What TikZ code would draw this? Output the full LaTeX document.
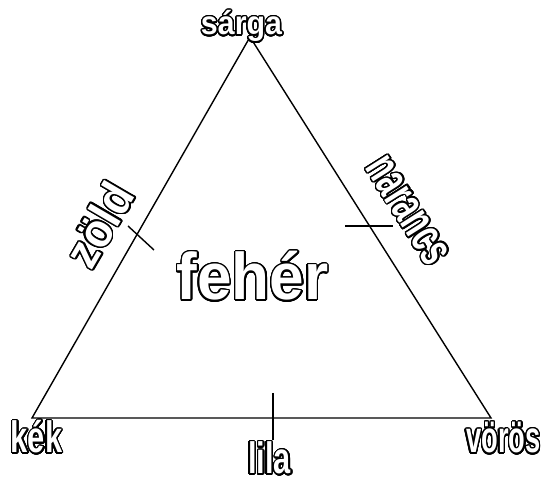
\documentclass[tikz,border=0pt]{standalone}
\usepackage{fontspec}
\usepackage{contour}
\usetikzlibrary{positioning}
\setmainfont{Liberation Sans}
\newfontfamily\lblface{Liberation Sans}
% size, horizontal stretch
\newcommand{\lblfont}[2]{\lblface\bfseries\addfontfeatures{FakeStretch=#2}\fontsize{#1}{#1}\selectfont}
\contourlength{1.4pt}
\contournumber{32}

\begin{document}
\begin{tikzpicture}[x=1pt, y=-1pt,
    side/.style={line width=1.4pt, line join=miter},
    tick/.style={line width=1.4pt},
    colorname/.style={text=white, inner sep=0pt, anchor=base, font=#1},
  ]
  \useasboundingbox (0,0) rectangle (547,481);
  \coordinate (yellow) at (250,37);
  \coordinate (blue) at (32,418);
  \coordinate (red) at (491,418);
  \draw[side] (yellow) -- (red) -- (blue) -- cycle;
  % marks across the sides
  \coordinate (gA) at (128,226);
  \coordinate (gB) at (154,250);
  \coordinate (oA) at (345,226);
  \coordinate (oB) at (393,226);
  \coordinate (pA) at (273,393);
  \coordinate (pB) at (273,440);
  \draw[tick] (gA) -- (gB);
  \draw[tick] (oA) -- (oB);
  \draw[tick] (pA) -- (pB);
  % names of the colours
  \node[colorname={\lblfont{33}{0.92}}] (sarga) at (241.5,35) {\contour{black}{sárga}};
  \node[colorname={\lblfont{44}{0.70}}] (kek) at (36.5,453) {\contour{black}{kék}};
  \node[colorname={\lblfont{44}{0.62}}] (voros) at (503.5,453) {\contour{black}{vörös}};
  \node[colorname={\lblfont{44}{0.70}}] (lila) at (269.5,474) {\contour{black}{lila}};
  \node[colorname={\lblfont{66}{0.94}}] (feher) at (252.5,300) {\contour{black}{fehér}};
  \node[colorname={\lblfont{48}{0.92}}, anchor=center, rotate=59.7] (zold) at (100,225) {\contour{black}{zöld}};
  \node[colorname={\lblfont{50}{0.62}}, anchor=center, rotate=-57.7] (narancs) at (407,211) {\contour{black}{narancs}};
\end{tikzpicture}
\end{document}
